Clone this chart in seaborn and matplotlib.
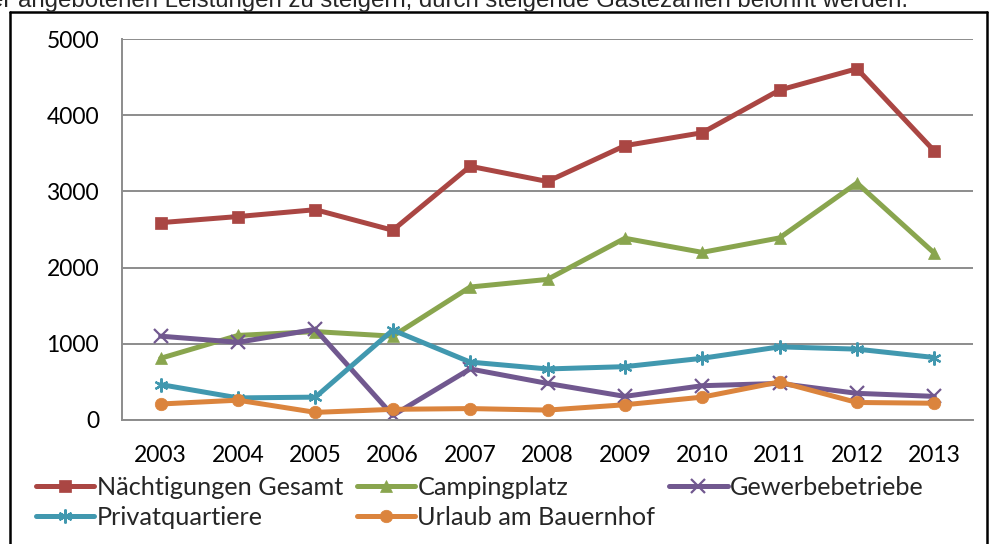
import matplotlib
matplotlib.use("Agg")
import matplotlib.pyplot as plt
import matplotlib.lines as mlines
import seaborn as sns

# Daten
jahre = ['2003', '2004', '2005', '2006', '2007', '2008', '2009', '2010', '2011', '2012', '2013']
naechtigungen = [2590, 2670, 2760, 2490, 3330, 3130, 3600, 3770, 4330, 4610, 3530]
camping = [810, 1110, 1160, 1100, 1745, 1845, 2385, 2200, 2390, 3110, 2190]
gewerbe = [1100, 1020, 1190, 60, 670, 480, 310, 450, 480, 350, 310]
privat = [465, 290, 300, 1180, 760, 670, 700, 810, 960, 930, 820]
bauernhof = [210, 260, 100, 140, 150, 130, 200, 300, 500, 230, 220]

serien = [
    ('Nächtigungen Gesamt', naechtigungen, '#AA4643', 's'),
    ('Campingplatz', camping, '#89A54E', '^'),
    ('Gewerbebetriebe', gewerbe, '#71588F', 'x'),
    ('Privatquartiere', privat, '#4198AF', (6, 2, 0)),
    ('Urlaub am Bauernhof', bauernhof, '#DB843D', 'o'),
]

sns.set_style('white')
plt.rcParams['font.family'] = ['Lato', 'DejaVu Sans']

fig = plt.figure(figsize=(9.9, 5.44), dpi=100)
ax = fig.add_axes([122 / 990, 1 - 420 / 544, (973 - 122) / 990, (420 - 39) / 544])

grau = '#8C8C8C'
for name, werte, farbe, marker in serien:
    offen = marker in ('x', (6, 2, 0))
    sns.lineplot(x=jahre, y=werte, ax=ax, color=farbe, linewidth=3.6,
                 marker=marker, markersize=9 if not offen else 10,
                 markeredgecolor=farbe, markerfacecolor=farbe,
                 markeredgewidth=1.6 if offen else 0.5, label=name, legend=False)

ax.set_xlim(-0.5, 10.5)
ax.set_ylim(0, 5000)
ax.set_yticks(range(0, 5001, 1000))
ax.set_xticks(range(len(jahre)))
ax.set_xticklabels(jahre)
ax.set_xticks([i - 0.5 for i in range(len(jahre) + 1)], minor=True)
ax.grid(axis='y', color=grau, linewidth=1.4)
ax.set_axisbelow(True)
ax.set_xlabel('')
ax.set_ylabel('')

for s in ['top', 'right']:
    ax.spines[s].set_visible(False)
for s in ['left', 'bottom']:
    ax.spines[s].set_color(grau)
    ax.spines[s].set_linewidth(1.4)

ax.tick_params(axis='x', which='major', length=0, pad=18, labelsize=16.5, colors='black')
ax.tick_params(axis='x', which='minor', length=6, width=1.4, color=grau, direction='out')
ax.tick_params(axis='y', which='major', length=6.5, width=1.4, color=grau, direction='out',
               pad=10, labelsize=16.5, labelcolor='black')

# Legende zeilenweise wie in Excel: Spalten werden spaltenweise gefuellt
handles, labels = ax.get_legend_handles_labels()
ordnung = [0, 3, 1, 4, 2]
fig.legend([handles[i] for i in ordnung], [labels[i] for i in ordnung],
           loc='upper left', bbox_to_anchor=(36 / 990, 1 - 476 / 544),
           ncol=3, frameon=False, fontsize=18.2, handlelength=2.3, handletextpad=0.1,
           columnspacing=0.55, labelspacing=0.28, borderpad=0, borderaxespad=0, numpoints=1)

# Rahmen des eingebetteten Diagramms
for xs, ys in [([10 / 990, 10 / 990], [0, 1 - 12 / 544]),
               ([10 / 990, 987 / 990], [1 - 12 / 544, 1 - 12 / 544]),
               ([987 / 990, 987 / 990], [0, 1 - 12 / 544])]:
    fig.add_artist(mlines.Line2D(xs, ys, color='black', linewidth=1.8))

fig.text(-10 / 990, 1 - 7 / 544,
         'er angebotenen Leistungen zu steigern, durch steigende Gästezahlen belohnt werden.',
         family=['Liberation Sans', 'DejaVu Sans'], fontsize=17.3, va='baseline', ha='left')

fig.savefig('out.png', dpi=100)
